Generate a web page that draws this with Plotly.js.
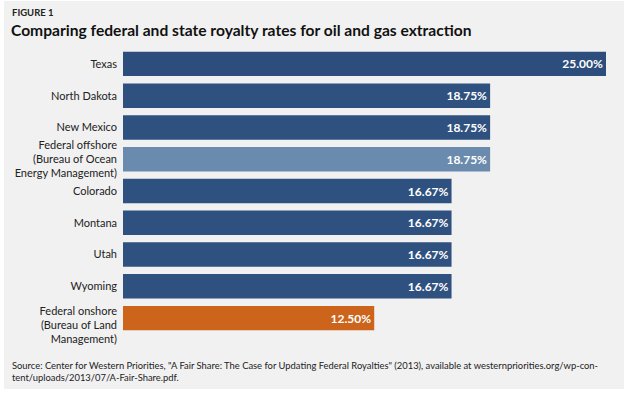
<!DOCTYPE html>
<html>
<head>
<meta charset="utf-8">
<script src="https://cdn.plot.ly/plotly-3.0.1.min.js"></script>
<style>html,body{margin:0;padding:0;background:#fff;}#chart{width:628px;height:396px;}</style>
</head>
<body>
<div id="chart"></div>
<script>
const categories = [
  "Texas",
  "North Dakota",
  "New Mexico",
  "Federal offshore<br>(Bureau of Ocean<br>Energy Management)",
  "Colorado",
  "Montana",
  "Utah",
  "Wyoming",
  " <br>Federal onshore<br>(Bureau of Land<br>Management)"
];
const royaltyRates = [25.00, 18.75, 18.75, 18.75, 16.67, 16.67, 16.67, 16.67, 12.50];
const barColors = ["#2d4e7c", "#2f5180", "#2f5180", "#6a8aae", "#2f5180", "#2f5180", "#2f5180", "#2f5180", "#cc641b"];
const valueLabels = royaltyRates.map(v => v.toFixed(2) + "%");

// the original chart's value axis starts slightly left of zero; bars are drawn from that start
const AXIS_START = -1.05;
const AXIS_END = 25;

const FONT = "Lato, 'Open Sans', sans-serif";

const trace = {
  type: "bar",
  orientation: "h",
  y: categories,
  x: royaltyRates.map(v => v - AXIS_START),
  base: AXIS_START,
  marker: {color: barColors, line: {width: 0}},
  text: valueLabels,
  textposition: "inside",
  insidetextanchor: "end",
  textfont: {color: "#ffffff", size: 12, family: FONT, weight: "bold"},
  constraintext: "none",
  hoverinfo: "skip",
  cliponaxis: false
};

// layout geometry (pixels)
const W = 628, H = 396, ML = 123, MR = 22, MT = 48, MB = 62;
const PW = W - ML - MR, PH = H - MT - MB;
const px2x = px => (px - ML) / PW;
const px2y = py => (H - MB - py) / PH;

const layout = {
  width: W, height: H,
  margin: {l: ML, r: MR, t: MT, b: MB, pad: 0},
  paper_bgcolor: "#ffffff",
  plot_bgcolor: "rgba(0,0,0,0)",
  bargap: 0.23,
  showlegend: false,
  font: {family: FONT, color: "#222222"},
  xaxis: {range: [AXIS_START, AXIS_END], visible: false, fixedrange: true},
  yaxis: {
    type: "category", autorange: "reversed", showgrid: false, zeroline: false,
    showline: false, ticks: "", ticklabelstandoff: 5,
    tickfont: {size: 11, color: "#222222", family: FONT}, fixedrange: true
  },
  shapes: [{
    type: "rect", xref: "paper", yref: "paper", layer: "below",
    x0: px2x(4), x1: px2x(624), y0: px2y(389), y1: px2y(1),
    fillcolor: "#f1f1f1", line: {width: 0}
  }],
  annotations: [
    {text: "FIGURE 1", xref: "paper", yref: "paper", x: px2x(10), y: px2y(12),
     xanchor: "left", yanchor: "middle", showarrow: false,
     font: {size: 9.5, color: "#222222", family: FONT, weight: "bold"}},
    {text: "Comparing federal and state royalty rates for oil and gas extraction",
     xref: "paper", yref: "paper", x: px2x(9), y: px2y(30.5),
     xanchor: "left", yanchor: "middle", showarrow: false,
     font: {size: 15.6, color: "#111111", family: FONT, weight: "bold"}},
    {text: "Source: Center for Western Priorities, \"A Fair Share: The Case for Updating Federal Royalties\" (2013), available at westernpriorities.org/wp-con-<br>tent/uploads/2013/07/A-Fair-Share.pdf.",
     xref: "paper", yref: "paper", x: px2x(10), y: px2y(371.5),
     xanchor: "left", yanchor: "middle", align: "left", showarrow: false,
     font: {size: 9.4, color: "#222222", family: FONT}}
  ]
};

Plotly.newPlot("chart", [trace], layout, {displayModeBar: false, staticPlot: true});
</script>
</body>
</html>
